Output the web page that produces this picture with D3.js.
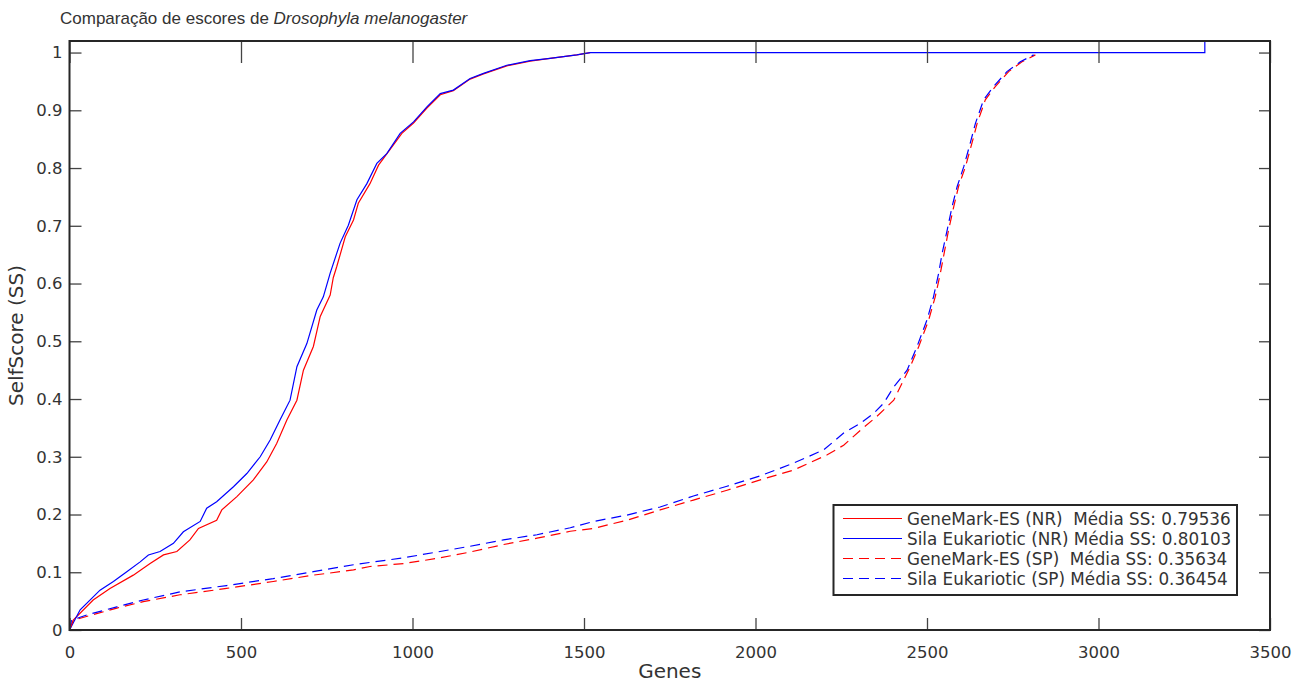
<!DOCTYPE html>
<html>
<head>
<meta charset="utf-8">
<script src="https://cdn.jsdelivr.net/npm/d3@7"></script>
<style>
  html, body { margin: 0; padding: 0; background: #fff; }
  svg { display: block; }
  text { font-family: "DejaVu Sans", sans-serif; fill: #333; }
</style>
</head>
<body>
<svg id="chart" width="1305" height="682"></svg>
<script>
// ---------- data (gene index, self score) ----------
const xTicks = [0, 500, 1000, 1500, 2000, 2500, 3000, 3500];
const yTicks = [0, 0.1, 0.2, 0.3, 0.4, 0.5, 0.6, 0.7, 0.8, 0.9, 1];
const yTickLabels = ["0", "0.1", "0.2", "0.3", "0.4", "0.5", "0.6", "0.7", "0.8", "0.9", "1"];

const seriesNames = [
  "GeneMark-ES (NR)  Média SS: 0.79536",
  "Sila Eukariotic (NR) Média SS: 0.80103",
  "GeneMark-ES (SP)  Média SS: 0.35634",
  "Sila Eukariotic (SP) Média SS: 0.36454"
];

const redNRGenes = [0,11,69,118,186,235,274,313,351,376,429,444,488,536,575,604,634,663,682,711,731,760,769,779,804,828,842,876,901,969,1003,1042,1081,1119,1168,1207,1275,1343,1401,1479,1518];
const redNRScores = [0,.017,.052,.072,.095,.115,.130,.136,.156,.176,.190,.208,.231,.260,.291,.323,.364,.398,.450,.491,.543,.580,.610,.629,.681,.710,.739,.773,.805,.860,.878,.904,.927,.934,.954,.963,.977,.985,.990,.996,1.0];

const blueNRGenes = [0,31,89,128,167,206,230,264,303,332,381,400,429,478,517,556,585,614,643,663,692,721,740,760,789,813,838,867,896,925,964,1003,1042,1081,1119,1168,1207,1275,1343,1401,1479,1518,3310,3310];
const blueNRScores = [0,.035,.069,.084,.101,.118,.130,.136,.150,.170,.188,.211,.222,.248,.271,.300,.329,.364,.398,.456,.496,.554,.577,.618,.670,.701,.745,.773,.808,.825,.860,.880,.906,.929,.935,.955,.964,.978,.986,.990,.996,1.0,1.0,1.05];

const redSPGenes = [0,11,138,215,322,458,594,711,828,876,974,1071,1168,1265,1363,1460,1528,1625,1722,1819,1917,2014,2111,2208,2257,2306,2354,2403,2451,2476,2505,2524,2539,2563,2578,2592,2612,2631,2646,2670,2699,2738,2777,2816];
const redSPScores = [0,.017,.038,.049,.061,.072,.084,.095,.104,.110,.115,.124,.135,.148,.159,.171,.176,.190,.208,.225,.242,.260,.277,.303,.320,.346,.370,.398,.456,.491,.537,.577,.618,.693,.733,.768,.802,.843,.877,.918,.941,.967,.984,.996];

const blueSPGenes = [0,6,50,138,215,322,458,594,711,828,876,974,1071,1168,1265,1363,1460,1528,1625,1722,1819,1917,2014,2111,2199,2257,2306,2344,2374,2403,2442,2471,2500,2519,2534,2544,2559,2573,2588,2607,2626,2641,2665,2694,2733,2772,2811];
const blueSPScores = [0,.017,.026,.040,.052,.066,.077,.089,.101,.113,.117,.125,.135,.145,.156,.165,.177,.188,.199,.213,.232,.249,.267,.289,.312,.341,.358,.375,.393,.421,.450,.491,.537,.577,.618,.652,.693,.733,.768,.802,.843,.877,.918,.941,.967,.984,.996];

// ---------- layout ----------
const svg = d3.select("#chart");
const pL = 69.5, pR = 1270, pT = 41, pB = 630;
const x = d3.scaleLinear().domain([0, 3500]).range([pL, pR]);
const y = d3.scaleLinear().domain([0, 1.02]).range([pB, pT]);
const axisColor = "#262626";

svg.append("rect").attr("width", 1305).attr("height", 682).attr("fill", "#fff");

// title
const title = svg.append("text")
  .attr("x", 60).attr("y", 24)
  .style("font-family", "'Liberation Sans', Arial, sans-serif")
  .style("font-size", "17px");
title.append("tspan").text("Comparação de escores de ");
title.append("tspan").style("font-style", "italic").text("Drosophyla melanogaster");

// clip
svg.append("clipPath").attr("id", "clip")
  .append("rect").attr("x", pL).attr("y", pT).attr("width", pR - pL).attr("height", pB - pT);

const series = [
  { g: redNRGenes, s: redNRScores, color: "#ff0000", dash: null },
  { g: blueNRGenes, s: blueNRScores, color: "#0000ff", dash: null },
  { g: redSPGenes, s: redSPScores, color: "#ff0000", dash: "10,6" },
  { g: blueSPGenes, s: blueSPScores, color: "#0000ff", dash: "10,6" }
];

const line = d3.line().x(d => x(d[0])).y(d => y(d[1]));
const plot = svg.append("g").attr("clip-path", "url(#clip)");
series.forEach(sr => {
  plot.append("path")
    .datum(d3.zip(sr.g, sr.s))
    .attr("d", line)
    .attr("fill", "none")
    .attr("stroke", sr.color)
    .attr("stroke-width", 1.2)
    .attr("stroke-dasharray", sr.dash);
});

// axes (ticks inward)
const xb = svg.append("g").attr("transform", `translate(0,${pB})`)
  .call(d3.axisBottom(x).tickValues(xTicks).tickSizeInner(-12).tickSizeOuter(0).tickPadding(16).tickFormat(d3.format("d")));
const xt = svg.append("g").attr("transform", `translate(0,${pT})`)
  .call(d3.axisTop(x).tickValues(xTicks).tickSizeInner(-22).tickSizeOuter(0).tickFormat(""));
const yl = svg.append("g").attr("transform", `translate(${pL},0)`)
  .call(d3.axisLeft(y).tickValues(yTicks).tickSizeInner(-12).tickSizeOuter(0).tickPadding(7).tickFormat((d, i) => yTickLabels[i]));
const yr = svg.append("g").attr("transform", `translate(${pR},0)`)
  .call(d3.axisRight(y).tickValues(yTicks).tickSizeInner(-11).tickSizeOuter(0).tickFormat(""));

[xb, xt, yl, yr].forEach(g => {
  g.select(".domain").remove();
  g.selectAll(".tick line").attr("stroke", "#444").attr("stroke-width", 1.3);
  g.selectAll(".tick text").style("font-family", "'DejaVu Sans', sans-serif").style("font-size", "16.5px").attr("fill", "#333");
});

// frame
svg.append("rect")
  .attr("x", pL).attr("y", pT).attr("width", pR - pL).attr("height", pB - pT)
  .attr("fill", "none").attr("stroke", axisColor).attr("stroke-width", 2);

// axis labels
svg.append("text").attr("x", (pL + pR) / 2).attr("y", 678)
  .attr("text-anchor", "middle").style("font-size", "20px").text("Genes");
svg.append("text").attr("transform", `translate(23,${(pT + pB) / 2}) rotate(-90)`)
  .attr("text-anchor", "middle").style("font-size", "20px").text("SelfScore (SS)");

// legend
const lg = svg.append("g");
lg.append("rect").attr("x", 833.5).attr("y", 505).attr("width", 403.5).attr("height", 90)
  .attr("fill", "#fff").attr("stroke", axisColor).attr("stroke-width", 2);
series.forEach((sr, i) => {
  const cy = 518.5 + i * 20;
  lg.append("line").attr("x1", 843).attr("x2", 902).attr("y1", cy).attr("y2", cy)
    .attr("stroke", sr.color).attr("stroke-width", 1.2).attr("stroke-dasharray", sr.dash);
  lg.append("text").attr("x", 907).attr("y", cy).attr("dy", "0.36em")
    .attr("xml:space", "preserve").style("white-space", "pre")
    .style("font-size", "16.8px").text(seriesNames[i]);
});
</script>
</body>
</html>
